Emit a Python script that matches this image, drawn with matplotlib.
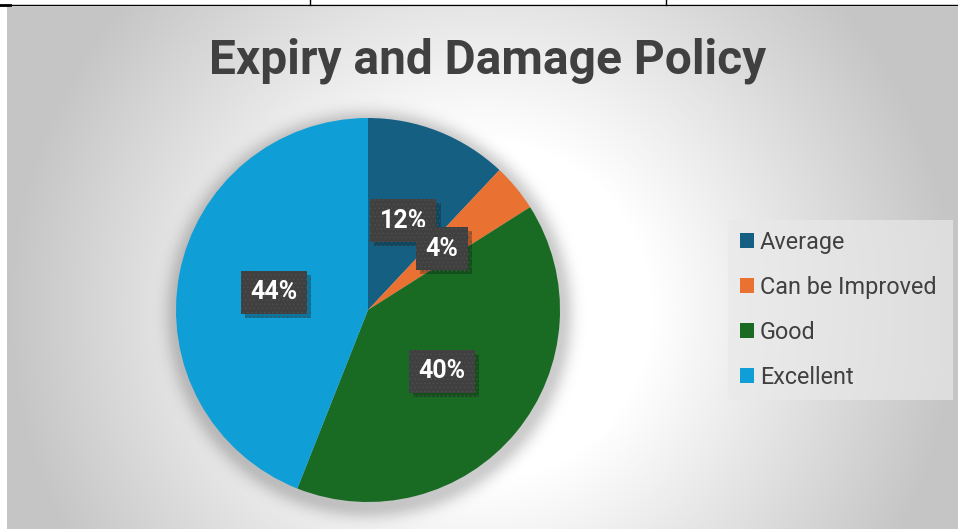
import matplotlib.pyplot as plt
import matplotlib.patheffects as pe
from matplotlib.patches import Rectangle
import numpy as np

plt.rcParams['hatch.linewidth'] = 0.5

categories = ['Average', 'Can be Improved', 'Good', 'Excellent']
shares = [12, 4, 40, 44]
colors = ['#156082', '#E97132', '#196B24', '#0F9ED5']
title = 'Expiry and Damage Policy'

W, H = 958, 529
fig = plt.figure(figsize=(W / 100, H / 100), dpi=100)

# full-figure axes in pixel units for the background pieces
bg = fig.add_axes([0, 0, 1, 1])
bg.set_xlim(0, W)
bg.set_ylim(H, 0)
bg.axis('off')

# radial grey-to-white fill of the chart area
yy, xx = np.mgrid[7:H, 7:W]
d = np.hypot(xx - 482, yy - 310)
t = np.clip((d - 170) / (475 - 170), 0, 1)
shade = (255 - 58 * t) / 255
bg.imshow(np.dstack([shade] * 3), extent=[7, W, H, 7], aspect='auto',
          interpolation='bilinear', zorder=0)

# soft shadow under the pie
yy, xx = np.mgrid[0:H, 0:W]
dp = np.hypot(xx - 369, yy - 314)
alpha = 0.2 * np.exp(-np.clip(dp - 192, 0, None) ** 2 / (2 * 9.0 ** 2))
sh = np.zeros((H, W, 4))
sh[..., 3] = alpha
bg.imshow(sh, extent=[0, W, H, 0], aspect='auto', zorder=1)

# table rules above the chart
bg.plot([0, W], [5, 5], color='black', lw=1.0, zorder=3)
bg.plot([0, 10], [5, 5], color='black', lw=2.0, zorder=3)
for x in (310, 666):
    bg.plot([x, x], [0, 5], color='black', lw=1.0, zorder=3)

bg.text(488, 73, title, ha='center', va='baseline', fontsize=34.5,
        fontweight='bold', color='#404040', family='Roboto', zorder=4)

# legend panel
bg.add_patch(Rectangle((728, 220), 225, 180, facecolor='#e9e9e9', alpha=0.67,
                       edgecolor='none', zorder=2))

ax = fig.add_axes([176 / W, (H - 502) / H, 384 / W, 384 / H])
wedges, _, autotexts = ax.pie(shares, colors=colors, startangle=90, counterclock=False,
                              autopct='%1.0f%%', pctdistance=0.5,
                              wedgeprops=dict(linewidth=0))
ax.set_xlim(-1, 1)
ax.set_ylim(-1, 1)
ax.set_aspect('equal')

for txt in autotexts:
    txt.set_fontsize(18)
    txt.set_fontweight('bold')
    txt.set_family('Roboto')
    txt.set_color('white')
    txt.set_bbox(dict(boxstyle='square,pad=0.38', facecolor='#404040',
                      edgecolor='#4f4f4f', linewidth=0, hatch='....'))
    txt.get_bbox_patch().set_path_effects([
        pe.SimplePatchShadow(offset=(3, -3), shadow_rgbFace='black', alpha=0.25),
        pe.Normal()])

leg = fig.legend(wedges, categories, loc='upper left',
                 bbox_to_anchor=(740 / W, 1 - 231 / H), frameon=False,
                 prop=dict(family='Roboto', size=16.8), labelcolor='#404040',
                 handlelength=0.6, handleheight=0.6, handletextpad=0.26,
                 labelspacing=0.94, borderaxespad=0, borderpad=0)

fig.savefig('out.png', dpi=100)
